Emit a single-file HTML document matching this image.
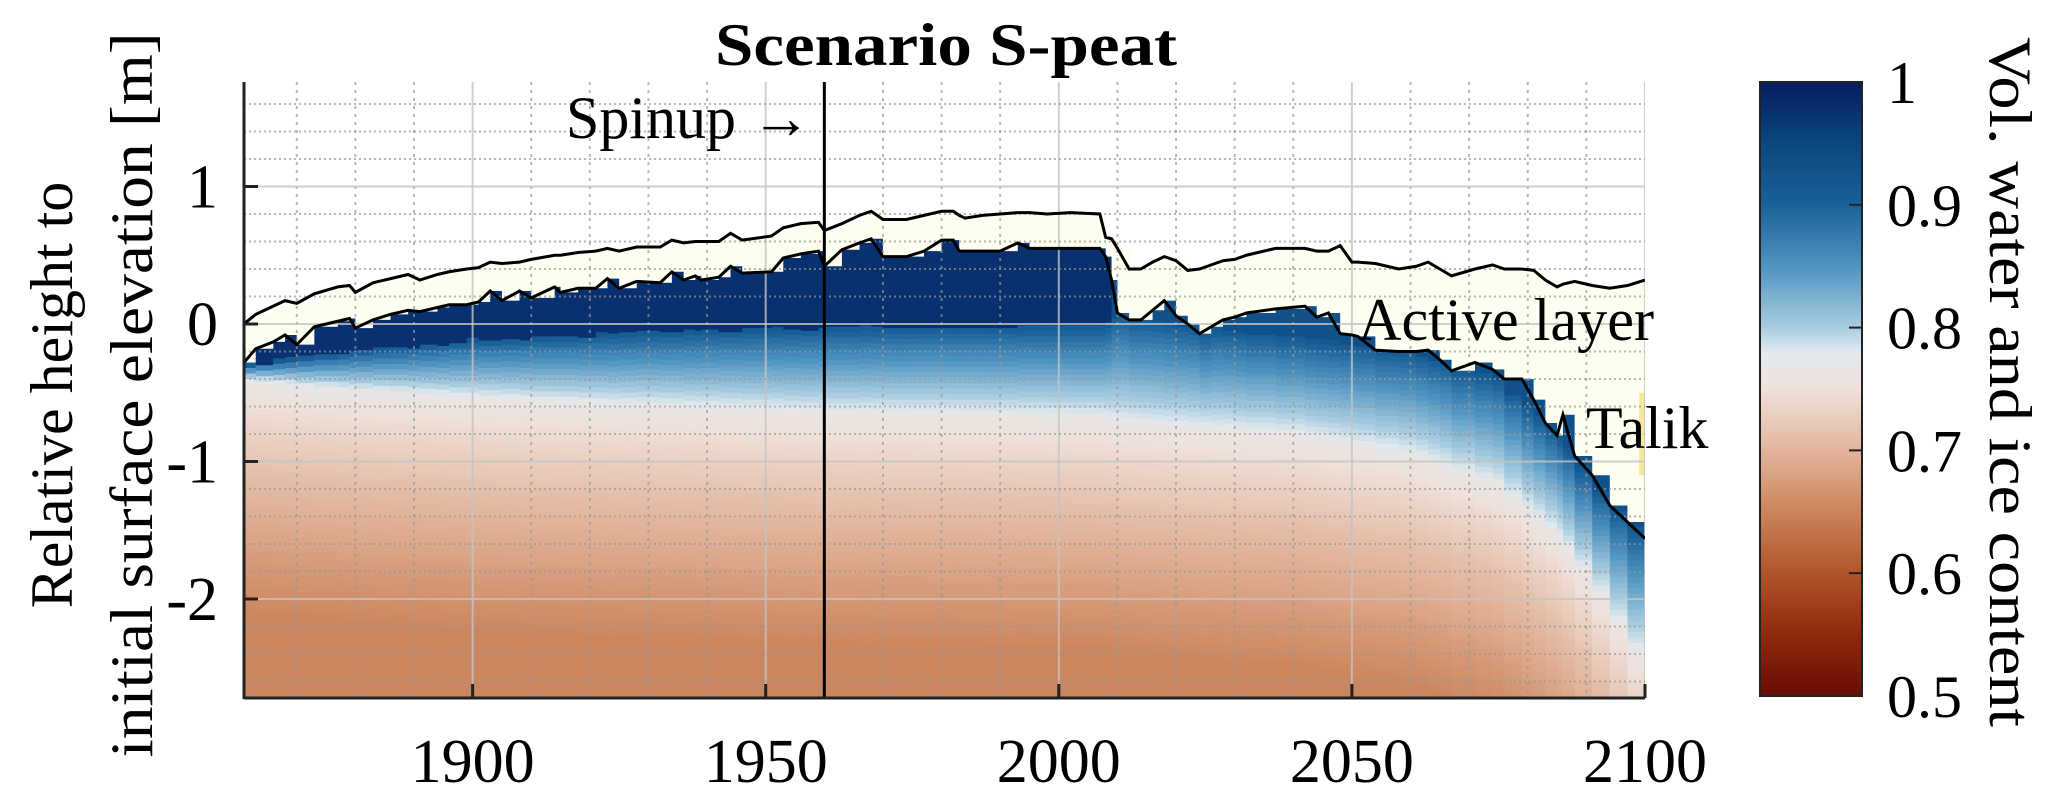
<!DOCTYPE html>
<html><head><meta charset="utf-8"><style>
html,body{margin:0;padding:0;background:#fff;}
svg{display:block;font-family:"Liberation Serif",serif;}
</style></head><body>
<svg id="chart" width="2067" height="801" viewBox="0 0 2067 801" xmlns="http://www.w3.org/2000/svg">
<defs>
<linearGradient id="cbgrad" x1="0" y1="1" x2="0" y2="0"></linearGradient>
<clipPath id="plotclip"><rect x="244" y="82" width="1401" height="616"/></clipPath>
</defs>
<g id="heat" clip-path="url(#plotclip)"></g>
<g id="grid" clip-path="url(#plotclip)"></g>
<g id="lines" clip-path="url(#plotclip)"></g>
<g id="axes"></g>
<text x="946" y="65" text-anchor="middle" font-weight="bold" font-size="60" textLength="462" lengthAdjust="spacingAndGlyphs">Scenario S-peat</text>
<text x="811" y="138" text-anchor="end" font-size="60">Spinup →</text>
<text x="1358" y="340" font-size="60" textLength="296" lengthAdjust="spacingAndGlyphs">Active layer</text>
<text x="1586" y="448" font-size="60">Talik</text>
<text transform="translate(72,395) rotate(-90)" text-anchor="middle" font-size="60">Relative height to</text>
<text transform="translate(152,395) rotate(-90)" text-anchor="middle" font-size="60" textLength="725" lengthAdjust="spacingAndGlyphs">initial surface elevation [m]</text>
<rect x="1760" y="82" width="102" height="614" fill="url(#cbgrad)" stroke="#222" stroke-width="2"/>
<g id="cbticks"></g>
<text transform="translate(1990,382) rotate(90)" text-anchor="middle" font-size="60" textLength="690" lengthAdjust="spacingAndGlyphs">Vol. water and ice content</text>
</svg>
<script>
const years=[1861,1863,1866,1868,1870,1873,1877,1879,1880,1883,1886,1889,1891,1894,1896,1899,1901,1903,1905,1908,1910,1914,1915,1918,1921,1923,1925,1928,1932,1934,1936,1938,1939,1942,1944,1946,1951,1953,1956,1959,1960,1963,1966,1968,1970,1974,1977,1980,1982,1983,1984,1987,1990,1993,1995,1998,2002,2007,2008,2009,2010,2012,2014,2016,2018,2020,2022,2024,2026,2028,2030,2032,2037,2042,2044,2046,2048,2050,2051,2054,2058,2061,2063,2065,2067,2071,2074,2076,2079,2081,2083,2085,2086,2088,2091,2094,2097,2100];
const surface=[0.00,0.07,0.13,0.17,0.15,0.22,0.27,0.28,0.23,0.30,0.33,0.36,0.32,0.36,0.38,0.40,0.41,0.45,0.44,0.45,0.47,0.50,0.50,0.52,0.53,0.55,0.53,0.56,0.56,0.61,0.59,0.60,0.60,0.60,0.66,0.61,0.64,0.70,0.73,0.74,0.68,0.73,0.79,0.82,0.76,0.76,0.79,0.82,0.82,0.79,0.77,0.79,0.80,0.81,0.81,0.80,0.81,0.80,0.63,0.62,0.55,0.40,0.40,0.45,0.49,0.46,0.39,0.40,0.43,0.46,0.47,0.50,0.55,0.55,0.53,0.53,0.57,0.45,0.45,0.44,0.40,0.42,0.45,0.40,0.35,0.40,0.43,0.40,0.40,0.39,0.32,0.27,0.29,0.31,0.28,0.26,0.28,0.32];
const table=[-0.28,-0.18,-0.13,-0.08,-0.15,-0.02,0.02,0.04,-0.03,0.03,0.07,0.10,0.09,0.12,0.14,0.14,0.16,0.24,0.17,0.24,0.19,0.27,0.23,0.26,0.26,0.33,0.26,0.31,0.30,0.38,0.32,0.35,0.32,0.34,0.42,0.37,0.38,0.48,0.51,0.53,0.42,0.54,0.59,0.62,0.49,0.49,0.53,0.61,0.61,0.53,0.53,0.53,0.53,0.59,0.55,0.55,0.55,0.55,0.49,0.32,0.08,0.03,0.03,0.10,0.17,0.06,0.00,-0.07,-0.02,0.03,0.05,0.08,0.11,0.13,0.05,0.08,-0.07,-0.08,-0.09,-0.19,-0.20,-0.20,-0.19,-0.26,-0.34,-0.28,-0.33,-0.40,-0.40,-0.55,-0.72,-0.81,-0.66,-0.96,-1.10,-1.32,-1.44,-1.56];
const layerYears=[1861,1880,1900,1920,1940,1960,1980,2000,2008,2010,2020,2040,2060,2075,2085,2092,2100];
const darkBottom=[-0.30,-0.20,-0.12,-0.08,-0.05,-0.03,-0.02,-0.02,-0.02,0.08,0.0,-0.1,-0.2,-0.4,-0.8,-1.2,-1.56];
const whiteDepth=[-0.40,-0.47,-0.52,-0.56,-0.59,-0.62,-0.63,-0.65,-0.66,-0.68,-0.72,-0.78,-0.92,-1.15,-1.50,-1.90,-2.45];
const cbValues=[0.5,0.55,0.6,0.65,0.7,0.75,0.78,0.8,0.85,0.9,0.95,1.0];
const cbColors=["#6a0c04","#8c2a0e","#b0552a","#cb845c","#e2b59c","#efe2dc","#e2eaee","#a9cde0","#4f93c0","#1a6199","#0b4680","#061c60"];
const xTicks=[1900,1950,2000,2050,2100];
const yTicks=[1,0,-1,-2];
const cbTicks=[1,0.9,0.8,0.7,0.6,0.5];

const NS="http://www.w3.org/2000/svg";
const X0=244,X1=1645,XMIN=1861,XMAX=2100,Y0=82,Y1=698,YMAX=1.76,YMIN=-2.72;
const sx=y=>X0+(y-XMIN)/(XMAX-XMIN)*(X1-X0);
const sy=v=>Y1-(v-YMIN)/(YMAX-YMIN)*(Y1-Y0);
function el(tag,attrs,parent){const e=document.createElementNS(NS,tag);for(const k in attrs)e.setAttribute(k,attrs[k]);parent.appendChild(e);return e;}
function hex(h){return [1,3,5].map(i=>parseInt(h.substr(i,2),16));}
function cmap(v){
  if(v<=cbValues[0])return cbColors[0];
  for(let i=1;i<cbValues.length;i++){if(v<=cbValues[i]){const t=(v-cbValues[i-1])/(cbValues[i]-cbValues[i-1]);const a=hex(cbColors[i-1]),b=hex(cbColors[i]);return "rgb("+a.map((c,k)=>Math.round(c+(b[k]-c)*t)).join(",")+")";}}
  return cbColors[cbColors.length-1];
}
function interp(xs,ys,x){if(x<=xs[0])return ys[0];for(let i=1;i<xs.length;i++){if(x<=xs[i]){const t=(x-xs[i-1])/(xs[i]-xs[i-1]);return ys[i-1]+(ys[i]-ys[i-1])*t;}}return ys[ys.length-1];}

const grad=document.getElementById('cbgrad');
cbValues.forEach((v,i)=>{el('stop',{offset:((v-0.5)/0.5*100)+'%','stop-color':cbColors[i]},grad);});

const heat=document.getElementById('heat');
const dz=0.04;
for(let i=0;i<years.length;i++){
  const ya=years[i], yb=(i<years.length-1)?years[i+1]:XMAX+0.5;
  const xa=sx(ya), xb=sx(yb);
  const s=surface[i], tb=table[i];
  const mid=(ya+yb)/2;
  const db=Math.min(interp(layerYears,darkBottom,mid),tb);
  const wd=Math.min(interp(layerYears,whiteDepth,mid),db-0.05);
  const topV=mid>2009?0.93:0.975;
  const ac=el('rect',{x:xa,y:sy(s),width:xb-xa+0.6,height:Math.max(0,sy(tb)-sy(s)),fill:'#fefef0'},heat);
  
  
  for(let z=tb;z>YMIN;z-=dz){
    const zc=z-dz/2;let v;
    if(zc>=db)v=topV;
    else if(zc>=wd){const t=(db-zc)/(db-wd);v=0.915-(0.915-0.78)*Math.pow(t,0.8);}
    else v=Math.max(0.652,0.772-0.08*Math.pow(wd-zc,0.75));
    const r=el('rect',{x:xa,y:sy(z),width:xb-xa+0.6,height:sy(z-dz)-sy(z)+0.6,fill:cmap(v)},heat);
    
    
  }
}
const tk=el('rect',{x:sx(2099),y:sy(-0.5),width:sx(2100)-sx(2099),height:sy(-1.1)-sy(-0.5),fill:'#f3ea9c'},heat);



const grid=document.getElementById('grid');
for(let y=1870;y<=2100;y+=10){
  const major=(y%50===0);
  const g=el('line',{x1:sx(y),x2:sx(y),y1:Y0,y2:Y1,stroke:major?'#c4c4c4':'#999','stroke-width':2,'stroke-dasharray':major?'none':'3,5','opacity':major?0.8:0.7},grid);
  
  
}
for(let k=-13;k<=8;k++){
  const v=k*0.2;if(v<YMIN||v>YMAX)continue;
  const major=(k%5===0);
  const g=el('line',{x1:X0,x2:X1,y1:sy(v),y2:sy(v),stroke:major?'#c4c4c4':'#999','stroke-width':2,'stroke-dasharray':major?'none':'2,3','opacity':major?0.8:0.7},grid);
  
  
}

const lines=document.getElementById('lines');
const p1=el('polyline',{points:years.map((y,i)=>sx(y)+','+sy(surface[i])).join(' '),fill:'none',stroke:'#000','stroke-width':3},lines);


const p2=el('polyline',{points:years.map((y,i)=>sx(y)+','+sy(table[i])).join(' '),fill:'none',stroke:'#000','stroke-width':3},lines);


const sp=el('line',{x1:sx(1960),x2:sx(1960),y1:Y0,y2:Y1,stroke:'#000','stroke-width':3},lines);



const axes=document.getElementById('axes');
const yax=el('line',{x1:X0,x2:X0,y1:Y0,y2:Y1+1,stroke:'#222','stroke-width':3},axes);


const xax=el('line',{x1:X0,x2:X1,y1:Y1,y2:Y1,stroke:'#222','stroke-width':3},axes);


xTicks.forEach(t=>{
  const l=el('line',{x1:sx(t),x2:sx(t),y1:Y1,y2:Y1-14,stroke:'#222','stroke-width':3},axes);
  
  
  const tx=el('text',{x:sx(t),y:782,'text-anchor':'middle','font-size':62},axes);
  tx.textContent=t;
  
  
});
yTicks.forEach(t=>{
  const l=el('line',{x1:X0,x2:X0+14,y1:sy(t),y2:sy(t),stroke:'#222','stroke-width':3},axes);
  
  
  const tx=el('text',{x:218,y:sy(t)+21,'text-anchor':'end','font-size':62},axes);
  tx.textContent=t;
  
  
});
const cbt=document.getElementById('cbticks');
cbTicks.forEach(t=>{
  const y=696-(t-0.5)/0.5*614;
  if(t<1&&t>0.5){
    const l=el('line',{x1:1849,x2:1862,y1:y,y2:y,stroke:'#222','stroke-width':2},cbt);
    
    
  }
  const tx=el('text',{x:1887,y:y+21,'font-size':60},cbt);
  tx.textContent=t;
  
  
});
</script>
</body></html>
